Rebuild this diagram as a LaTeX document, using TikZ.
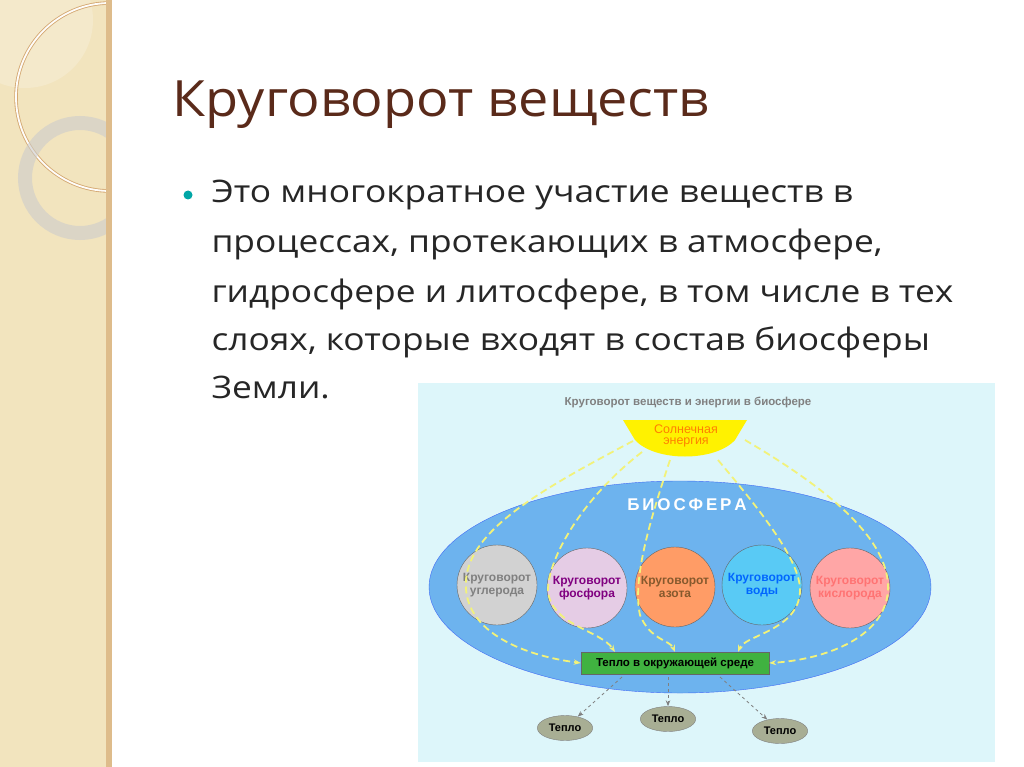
\documentclass[tikz,border=0pt]{standalone}
\usepackage{fontspec}
\setmainfont{Open Sans}
\newfontfamily\bodyfont[FakeStretch=1.14]{Open Sans}
\newfontfamily\titlefont[FakeStretch=1.08]{Open Sans}
\newfontfamily\diagfont{Liberation Sans}
\usetikzlibrary{arrows.meta,shapes.geometric}
\definecolor{panel}{HTML}{F2E4BE}
\definecolor{titlebrown}{HTML}{5A2A1A}
\definecolor{bg}{HTML}{DDF6FA}
\definecolor{bio}{HTML}{6DB3EE}
\definecolor{sun}{HTML}{FFF200}
\definecolor{ylw}{HTML}{F2F27A}
\definecolor{teplofill}{HTML}{A8AE94}
\tikzset{
  cyc/.style={circle,minimum size=80pt,inner sep=0pt,draw=black!60,font=\diagfont\bfseries\fontsize{12pt}{13pt}\selectfont,align=center},
  teplo/.style={ellipse,minimum width=54pt,minimum height=25pt,fill=teplofill,draw=black!50,font=\diagfont\bfseries\fontsize{11pt}{12pt}\selectfont},
  yl/.style={ylw,line width=1.8pt,dash pattern=on 7pt off 4pt,-{Stealth[length=7pt]}},
  gr/.style={gray,thick,dashed,-{Stealth[length=6pt]}},
  body/.style={anchor=base west,font=\bodyfont\fontsize{31pt}{35pt}\selectfont,text=black!85}
}
\begin{document}
\begin{tikzpicture}[x=1pt,y=-1pt]
\useasboundingbox (0,0) rectangle (1024,767);
\fill[white] (0,0) rectangle (1024,767);
% left panel
\begin{scope}
\clip (0,0) rectangle (110,767);
\fill[panel] (0,0) rectangle (110,767);
\fill[white,opacity=0.2] (25,20) circle (68);
\draw[brown!60!panel,line width=3.5pt] (110,97) circle (94);
\draw[white!90!panel,line width=1.8pt] (110,97) circle (94);
\draw[black!20,line width=14pt,opacity=0.6] (80,178) circle (55);
\end{scope}
\fill[brown!40!panel] (106,0) rectangle (112,767);
% title
\node[anchor=base west,inner sep=0pt,text=titlebrown,font=\titlefont\fontsize{50pt}{54pt}\selectfont] (title) at (172,117) {Круговорот веществ};
\fill[teal!70!cyan] (188,195) circle (4.5);
\node[body] (l1) at (208,203) {Это многократное участие веществ в};
\node[body] (l2) at (208,252) {процессах, протекающих в атмосфере,};
\node[body] (l3) at (208,302) {гидросфере и литосфере, в том числе в тех};
\node[body] (l4) at (208,350) {слоях, которые входят в состав биосферы};
\node[body] (l5) at (208,398) {Земли.};
% diagram
\fill[bg] (418,383) rectangle (995,762);
\node[font=\diagfont\bfseries\fontsize{11.5pt}{12pt}\selectfont,text=gray] (dt) at (688,402) {Круговорот веществ и энергии в биосфере};
\fill[sun] (623,420) -- (747,420) -- (735,440) .. controls (715,462) and (655,462) .. (635,440) -- cycle;
\node[font=\diagfont\fontsize{12.5pt}{11pt}\selectfont,text=orange,align=center] (sunt) at (686,436) {Солнечная\\энергия};
\node[ellipse,fill=bio,draw=blue!40!bio,minimum width=502pt,minimum height=212pt] (bio) at (680,587) {};
\node[font=\diagfont\bfseries\fontsize{17pt}{18pt}\selectfont,text=white] (biot) at (687,505) {Б\,И\,О\,С\,Ф\,Е\,Р\,А};
\node[cyc,fill=gray!35,text=gray] (c1) at (497,585) {Круговорот\\углерода};
\node[cyc,fill=violet!20,text=violet] (c2) at (587,588) {Круговорот\\фосфора};
\node[cyc,fill=orange!70!red!60,text=brown!70!black] (c3) at (675,587) {Круговорот\\азота};
\node[cyc,fill=cyan!65,text=blue!60!cyan] (c4) at (762,585) {Круговорот\\воды};
\node[cyc,fill=red!35,text=red!55] (c5) at (850,588) {Круговорот\\кислорода};
\node[draw=black!60,fill=green!60!black!75,minimum width=188pt,minimum height=22pt,font=\diagfont\bfseries\fontsize{11.5pt}{12pt}\selectfont,inner sep=0pt] (box) at (675,663) {Тепло в окружающей среде};
\node[teplo] (t1) at (565,728) {Тепло};
\node[teplo] (t2) at (668,719) {Тепло};
\node[teplo] (t3) at (780,731) {Тепло};
\draw[gr] (622,677) -- (t1);
\draw[gr] (668,677) -- (t2);
\draw[gr] (720,677) -- (t3);
% energy flows
\draw[yl] (633,441) .. controls (540,490) and (470,530) .. (466,580) .. controls (462,630) and (520,655) .. (box.west);
\draw[yl] (642,452) .. controls (580,500) and (548,560) .. (548,590) .. controls (550,625) and (600,630) .. (615,652);
\draw[yl] (670,460) .. controls (650,520) and (632,580) .. (640,615) .. controls (650,640) and (670,640) .. (675,652);
\draw[yl] (718,460) .. controls (760,510) and (800,560) .. (800,590) .. controls (800,630) and (745,635) .. (738,652);
\draw[yl] (745,440) .. controls (830,490) and (890,540) .. (888,590) .. controls (885,640) and (820,660) .. (box.east);
\end{tikzpicture}
\end{document}
